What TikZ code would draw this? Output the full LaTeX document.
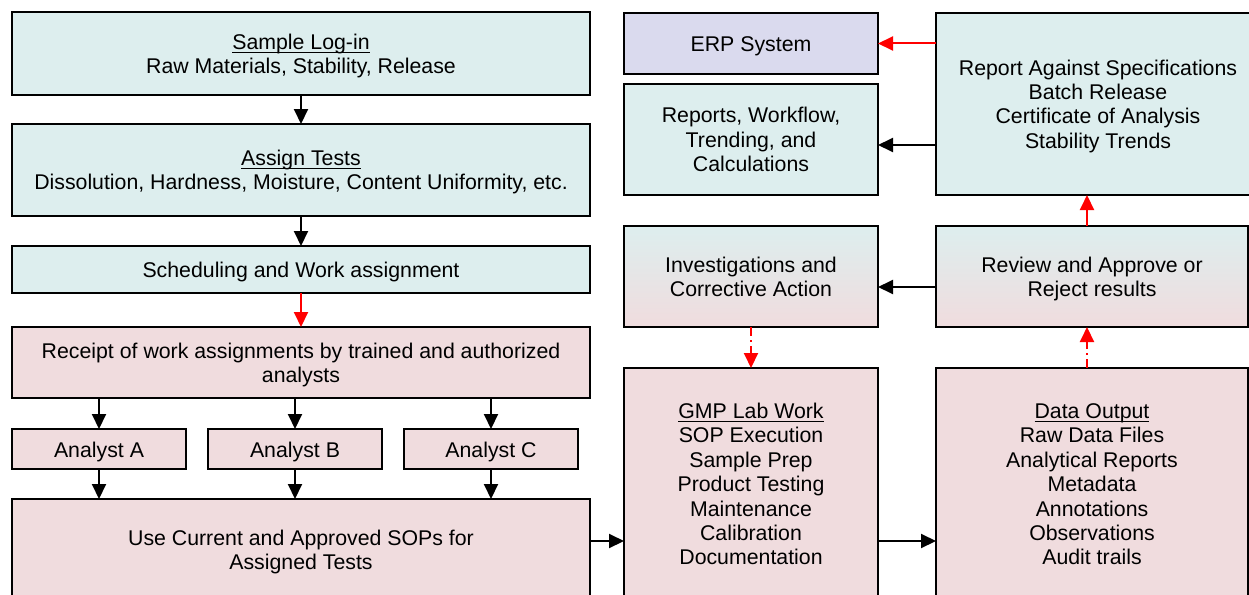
\documentclass[tikz,border=0pt]{standalone}
\usepackage{amsmath}
\usepackage{fontspec}
\setmainfont{Liberation Sans}
\usetikzlibrary{arrows.meta}
\definecolor{tealfill}{RGB}{221,238,238}
\definecolor{pinkfill}{RGB}{240,220,222}
\definecolor{erpfill}{RGB}{218,218,238}
% underline that sits close to the baseline
\newcommand{\headline}[1]{\underline{\smash[b]{#1}}}
% strut that pushes a block of lines a little lower in its box
\newcommand{\lift}{\rule{0pt}{21.5pt}}
\begin{document}
\begin{tikzpicture}[x=1pt,y=-1pt]
	\tikzset{box/.style={draw,inner sep=2pt,outer sep=0pt,align=center,
			font=\fontsize{21.3}{24.4}\selectfont,
			execute at begin node={\rule{0pt}{22pt}},
			execute at end node={\rule[-6pt]{0pt}{0pt}}},
		tealbox/.style={box,fill=tealfill,line width=2.5pt},
		pinkbox/.style={box,fill=pinkfill,line width=1.2pt},
		erpbox/.style={box,fill=erpfill,line width=2.5pt},
		mixbox/.style={box,top color=tealfill,bottom color=pinkfill,line width=2.5pt},
		arr/.style={-{Triangle[length=15pt,width=14pt]},line width=2pt},
		redarr/.style={arr,red},
		reddash/.style={redarr,dash pattern=on 9pt off 4pt on 2pt off 4pt}
	}
	\useasboundingbox (0,0) rectangle (1249,594);
	\begin{scope}
	\clip (0,0) rectangle (1249,594);
	% left column
	\node [tealbox,minimum width=578pt,minimum height=83pt] (login) at (301,53.5)
		{\lift\headline{Sample Log-in}\\Raw Materials, Stability, Release};
	\node [tealbox,minimum width=578pt,minimum height=92pt] (assign) at (301,170)
		{\lift\headline{Assign Tests}\\Dissolution, Hardness, Moisture, Content Uniformity, etc.};
	\node [tealbox,minimum width=578pt,minimum height=47pt] (sched) at (301,269.5)
		{Scheduling and Work assignment};
	\node [pinkbox,minimum width=578pt,minimum height=71pt] (receipt) at (301,362.5)
		{\lift Receipt of work assignments by trained and authorized\\analysts};
	\node [pinkbox,minimum width=174pt,minimum height=40pt] (anA) at (99,449) {Analyst A};
	\node [pinkbox,minimum width=174pt,minimum height=40pt] (anB) at (295,449) {Analyst B};
	\node [pinkbox,minimum width=174pt,minimum height=40pt] (anC) at (491,449) {Analyst C};
	\node [pinkbox,minimum width=578pt,minimum height=102pt] (use) at (301,550)
		{\lift Use Current and Approved SOPs for\\Assigned Tests};
	% middle column
	\node [erpbox,minimum width=254pt,minimum height=61pt] (erp) at (751,43.5) {ERP System};
	\node [tealbox,minimum width=254pt,minimum height=111pt] (reports) at (751,139.5)
		{\lift Reports, Workflow,\\Trending, and\\Calculations};
	\node [mixbox,minimum width=254pt,minimum height=101pt] (invest) at (751,276.5)
		{\lift Investigations and\\Corrective Action};
	\node [pinkbox,minimum width=254pt,minimum height=232pt] (gmp) at (751,484)
		{\lift\headline{GMP Lab Work}\\SOP Execution\\Sample Prep\\Product Testing\\Maintenance\\Calibration\\Documentation};
	% right column
	\node [tealbox,minimum width=324pt,minimum height=182pt] (spec) at (1098,104)
		{\lift Report Against Specifications\\Batch Release\\Certificate of Analysis\\Stability Trends};
	\node [mixbox,minimum width=312pt,minimum height=101pt] (review) at (1092,276.5)
		{\lift Review and Approve or\\Reject results};
	\node [pinkbox,minimum width=312pt,minimum height=232pt] (data) at (1092,484)
		{\lift\headline{Data Output}\\Raw Data Files\\Analytical Reports\\Metadata\\Annotations\\Observations\\Audit trails};
	\end{scope}

	\draw [arr] (login) -- (assign);
	\draw [arr] (assign) -- (sched);
	\draw [redarr] (sched) -- (receipt);
	\foreach \a in {anA,anB,anC} {
		\draw [arr] (receipt.south -| \a.north) -- (\a.north);
		\draw [arr] (\a.south) -- (\a.south |- use.north);
	}
	\draw [arr] (use.east |- 0,541) -- (gmp.west |- 0,541);
	\draw [arr] (gmp.east |- 0,541) -- (data.west |- 0,541);
	\draw [reddash] (data.north -| 1087,0) -- (review.south -| 1087,0);
	\draw [reddash] (invest) -- (gmp);
	\draw [arr] (review.west |- 0,287) -- (invest.east |- 0,287);
	\draw [redarr] (review.north -| 1087,0) -- (spec.south -| 1087,0);
	\draw [arr] (spec.west |- 0,145) -- (reports.east |- 0,145);
	\draw [redarr] (spec.west |- erp.east) -- (erp.east);
\end{tikzpicture}
\end{document}
